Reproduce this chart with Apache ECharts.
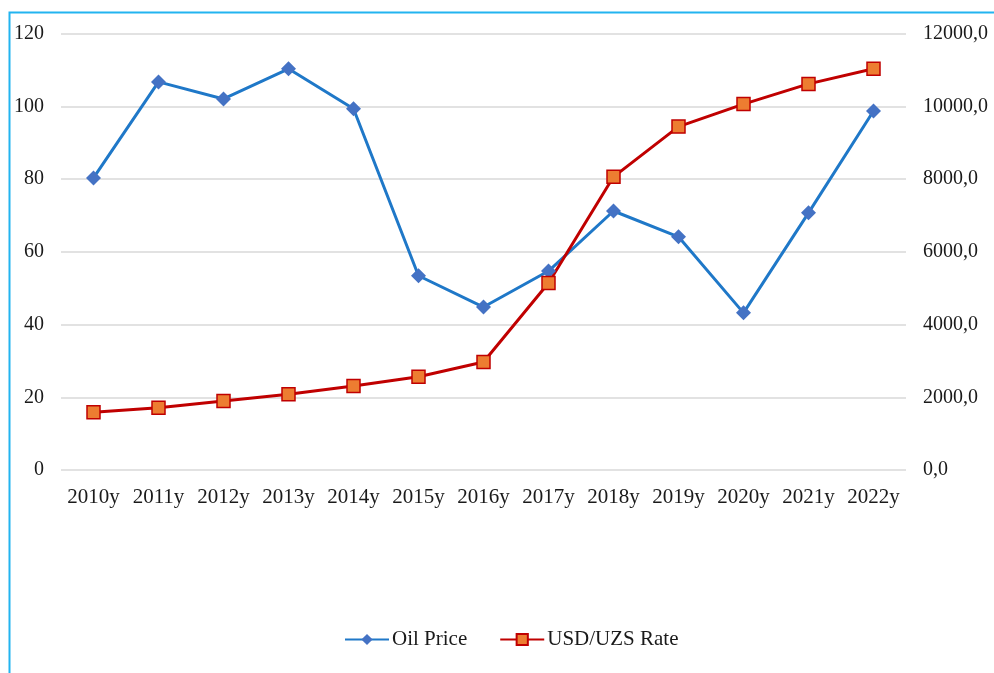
<!DOCTYPE html>
<html><head><meta charset="utf-8">
<script src="https://cdn.jsdelivr.net/npm/echarts@6/dist/echarts.min.js"></script>
<style>html,body{margin:0;padding:0;background:#fff}#c{width:994px;height:673px}</style>
</head><body><div id="c"></div>
<script>
const categories = ['2010y','2011y','2012y','2013y','2014y','2015y','2016y','2017y','2018y','2019y','2020y','2021y','2022y'];
const oilPrice = [80.3, 106.7, 102.0, 110.3, 99.3, 53.4, 44.8, 54.7, 71.2, 64.1, 43.2, 70.7, 98.7];
const usdUzs = [1590, 1710, 1895, 2080, 2310, 2565, 2970, 5140, 8060, 9440, 10060, 10615, 11030];

const chart = echarts.init(document.getElementById('c'));
const font = '"Liberation Serif", "Times New Roman", serif';
chart.setOption({
  animation: false,
  textStyle: {fontFamily: font},
  graphic: [{type:'rect', shape:{x:9.5, y:12.5, width:1200, height:900}, style:{fill:'none', stroke:'#22b4f0', lineWidth:2}, silent:true}],
  grid: {left: 61, right: 88, top: 33.5, bottom: 203},
  legend: {
    bottom: 18, left: 339, itemWidth: 44, itemHeight: 14, itemGap: 32,
    textStyle: {fontFamily: font, fontSize: 21, color: '#1a1a1a', padding: [0,0,0,-2]},
    data: ['Oil Price', 'USD/UZS Rate']
  },
  xAxis: {
    type: 'category', data: categories, boundaryGap: true,
    axisLine: {show: false}, axisTick: {show: false},
    axisLabel: {fontFamily: font, fontSize: 21, color: '#1a1a1a', margin: 17, interval: 0}
  },
  yAxis: [{
    type: 'value', min: 0, max: 120, interval: 20,
    axisLine: {show: false}, axisTick: {show: false},
    axisLabel: {fontFamily: font, fontSize: 20, color: '#1a1a1a', margin: 17},
    splitLine: {lineStyle: {color: '#d9d9d9', width: 1.5}}
  }, {
    type: 'value', min: 0, max: 12000, interval: 2000,
    axisLine: {show: false}, axisTick: {show: false},
    axisLabel: {fontFamily: font, fontSize: 20, color: '#1a1a1a', margin: 17, formatter: v => v.toFixed(1).replace('.', ',')},
    splitLine: {show: false}
  }],
  series: [{
    name: 'Oil Price', type: 'line', yAxisIndex: 0, data: oilPrice,
    symbol: 'diamond', symbolSize: 15,
    lineStyle: {color: '#1f78c8', width: 3},
    itemStyle: {color: '#4472c4', borderColor: '#4472c4', borderWidth: 0}
  }, {
    name: 'USD/UZS Rate', type: 'line', yAxisIndex: 1, data: usdUzs,
    symbol: 'rect', symbolSize: 13,
    lineStyle: {color: '#c00000', width: 3},
    itemStyle: {color: '#ed7d31', borderColor: '#c00000', borderWidth: 1.5}
  }]
});
</script></body></html>
